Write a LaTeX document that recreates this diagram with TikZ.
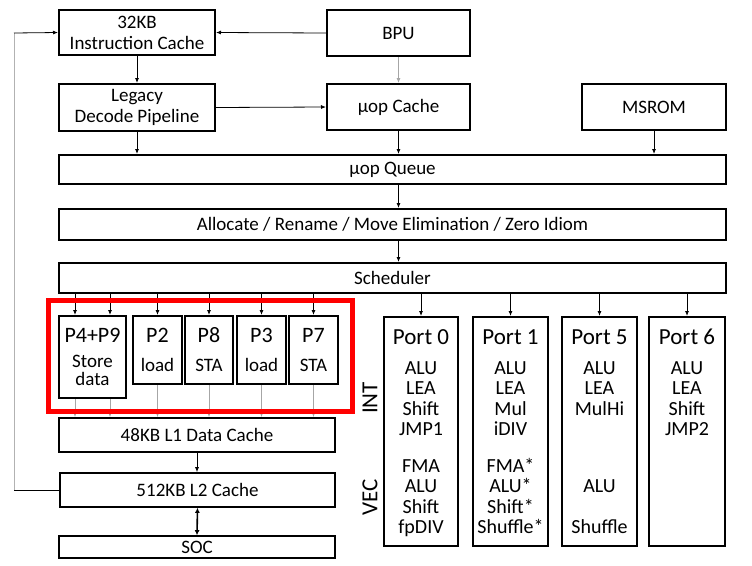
\documentclass[tikz,border=0pt]{standalone}
\usepackage{fontspec}
\setmainfont{Carlito}
\usetikzlibrary{positioning, arrows.meta}

\begin{document}
\begin{tikzpicture}[x=1pt, y=-1pt,
    every box/.style={draw, line width=2pt, inner sep=0pt, align=center, font=\fontsize{19}{21}\selectfont},
    port box/.style={every box, font=\fontsize{19}{18}\selectfont},
    item/.style={inner sep=0pt, text height=13pt, text depth=3pt, font=\fontsize{20}{21}\selectfont},
    arr/.style={-{Latex[length=5pt, width=4pt]}, line width=0.8pt},
    light/.style={arr, draw=black!35}]

    \useasboundingbox (0,0) rectangle (752,565);

    % Front end
    \node[every box, minimum width=156, minimum height=45] (ic) at (137, 32.5) {32KB\\Instruction Cache};
    \node[every box, minimum width=143, minimum height=46] (bpu) at (398.5, 33) {BPU};
    \node[every box, minimum width=156, minimum height=47] (legacy) at (137, 107.5) {Legacy\\Decode Pipeline};
    \node[every box, minimum width=143, minimum height=46] (uopc) at (398.5, 107) {µop Cache};
    \node[every box, minimum width=144, minimum height=46] (msrom) at (654, 107) {MSROM};

    % Wide stages
    \node[every box, minimum width=667, minimum height=29] (queue) at (392.5, 169.5) {µop Queue};
    \node[every box, minimum width=667, minimum height=31] (alloc) at (392.5, 224.5) {Allocate / Rename / Move Elimination / Zero Idiom};
    \node[every box, minimum width=667, minimum height=30] (sched) at (392.5, 278) {Scheduler};

    % Memory ports
    \node[port box, minimum width=67, minimum height=82] (p49) at (92.5, 357) {{\fontsize{22}{22}\selectfont P4+P9}\\[7pt]Store\\data};
    \node[port box, minimum width=49, minimum height=68] (p2) at (157.5, 350) {{\fontsize{22}{22}\selectfont P2}\\[11pt]load};
    \node[port box, minimum width=48, minimum height=68] (p8) at (209, 350) {{\fontsize{22}{22}\selectfont P8}\\[11pt]STA};
    \node[port box, minimum width=49, minimum height=68] (p3) at (261.5, 350) {{\fontsize{22}{22}\selectfont P3}\\[11pt]load};
    \node[port box, minimum width=49, minimum height=68] (p7) at (313.5, 350) {{\fontsize{22}{22}\selectfont P7}\\[11pt]STA};

    % Caches
    \node[every box, line width=1.6pt, minimum width=276, minimum height=34] (l1) at (197, 435) {48KB L1 Data Cache};
    \node[every box, line width=1.6pt, minimum width=275, minimum height=34] (l2) at (197.5, 490) {512KB L2 Cache};
    \node[every box, line width=1.6pt, minimum width=276, minimum height=22] (soc) at (197, 547) {SOC};

    % Execution ports
    \foreach \n/\x/\w in {0/421/74, 1/510.5/75, 5/599.5/75, 6/687/76} {
        \node[every box, minimum width=\w, minimum height=229] (port\n) at (\x, 431.5) {};
        \node[item, text height=15pt, font=\fontsize{23}{23}\selectfont] (port\n-t) at (\x, 338) {Port \n};
    }
    \foreach \t [count=\k] in {ALU, LEA, Shift, JMP1, FMA, ALU, Shift, fpDIV}
        \node[item] (port0-\k) at (421, {348.5+20.5*\k+(\k>4)*16}) {\t};
    \foreach \t [count=\k] in {ALU, LEA, Mul, iDIV, FMA*, ALU*, Shift*, Shuffle*}
        \node[item] (port1-\k) at (510.5, {348.5+20.5*\k+(\k>4)*16}) {\t};
    \foreach \t/\k in {ALU/1, LEA/2, MulHi/3, ALU/6, Shuffle/8}
        \node[item] (port5-\k) at (599.5, {348.5+20.5*\k+(\k>4)*16}) {\t};
    \foreach \t [count=\k] in {ALU, LEA, Shift, JMP2}
        \node[item] (port6-\k) at (687, {348.5+20.5*\k}) {\t};

    \node[rotate=90, font=\fontsize{23}{23}\selectfont] (int) at (370, 398) {INT};
    \node[rotate=90, font=\fontsize{23}{23}\selectfont] (vec) at (370, 497) {VEC};

    % Front end connections
    \draw[arr] (bpu.west) -- (ic.east);
    \draw[arr] (ic.south) -- (legacy.north);
    \draw[light] (bpu.south) -- (uopc.north);
    \draw[arr] (legacy.east) -- (uopc.west);
    \draw[arr] (legacy.south) -- (legacy.south |- queue.north);
    \draw[arr] (uopc.south) -- (uopc.south |- queue.north);
    \draw[arr] (msrom.south) -- (msrom.south |- queue.north);
    \draw[arr] (uopc.south |- queue.south) -- (uopc.south |- alloc.north);
    \draw[arr] (uopc.south |- alloc.south) -- (uopc.south |- sched.north);

    % Scheduler to ports
    \foreach \s in {-17.5, 17.5} {
        \draw[arr] ([xshift=\s pt]p49.north |- sched.south) -- ([xshift=\s pt]p49.north);
        \draw[light] ([xshift=\s pt]p49.south) -- ([xshift=\s pt]p49.south |- l1.north);
    }
    \foreach \p in {p2, p8, p3, p7} {
        \draw[arr] (\p.north |- sched.south) -- (\p.north);
        \draw[light] (\p.south) -- (\p.south |- l1.north);
    }
    \foreach \n in {0, 1, 5, 6}
        \draw[arr] (port\n.north |- sched.south) -- (port\n.north);

    % Cache connections
    \draw[arr] (l1.south) -- (l1.south |- l2.north);
    \draw[{Latex[length=5pt, width=5pt]}-{Latex[length=5pt, width=5pt]}, line width=1.6pt] (l2.south) -- (soc.north);

    % Feedback to instruction cache
    \coordinate (fbl) at (14, 490);
    \coordinate (fbu) at (14, 33);
    \draw[line width=0.8pt] (l2.west) -- (fbl);
    \draw[line width=0.8pt, black!30] (fbl) -- (fbu);
    \draw[arr] (fbu) -- (ic.west);

    % Highlight of memory ports
    \draw[red, line width=5pt] (48, 300) rectangle (352, 411);

\end{tikzpicture}
\end{document}
